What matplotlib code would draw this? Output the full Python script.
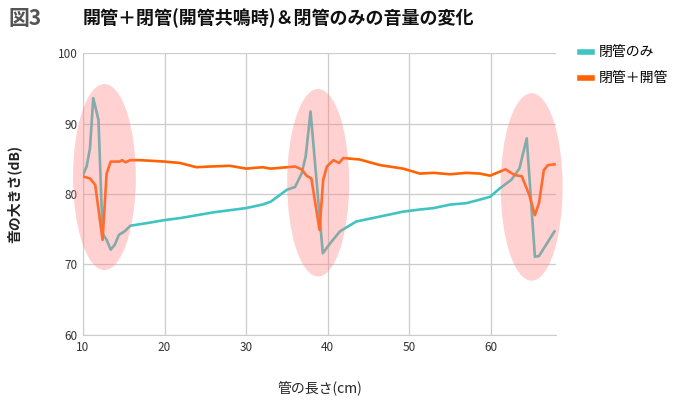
import matplotlib
matplotlib.use("Agg")
from matplotlib import pyplot as plt
from matplotlib.patches import Ellipse

plt.rcParams['font.family'] = ['Noto Sans CJK JP', 'DejaVu Sans']

# 閉管のみ
x_closed = [10, 10.45, 10.86, 11.26, 11.9, 12.4, 12.9, 13.4, 13.9, 14.4, 15.1, 15.8,
            18, 20, 22, 24, 26, 28, 30, 32, 33, 35, 36, 36.8, 37.3, 37.9,
            39.4, 40.3, 41.5, 43.5, 46.4, 49.25, 51.3, 53, 55, 57,
            58.65, 59.9, 61.1, 62.5, 63.5, 64.4, 65.4, 65.9, 67.8]
y_closed = [82.7, 83.9, 86.5, 93.6, 90.5, 74.4, 73.5, 72.1, 72.8, 74.2, 74.7, 75.5,
            75.9, 76.3, 76.6, 77.0, 77.4, 77.7, 78.0, 78.5, 78.9, 80.6, 81.0, 82.9, 85.3, 91.7,
            71.6, 73.0, 74.7, 76.1, 76.8, 77.5, 77.8, 78.0, 78.5, 78.7,
            79.2, 79.6, 80.8, 82.0, 83.6, 87.9, 71.1, 71.2, 74.7]

# 閉管＋開管
x_both = [10, 10.86, 11.5, 12.4, 12.9, 13.4, 14.5, 14.8, 15.2, 15.8, 17, 20, 21.9, 23.9,
          25.6, 28, 30, 32, 33, 36.0, 36.8, 37.4, 38.0, 39.0, 39.45, 39.9, 40.7, 41.4,
          41.9, 43.9, 46.4, 49.25, 51.3, 53, 55, 57, 58.65, 59.9, 61.8, 62.9, 63.8,
          64.7, 65.4, 65.9, 66.5, 67.0, 67.8]
y_both = [82.5, 82.2, 81.3, 73.5, 82.9, 84.6, 84.6, 84.8, 84.5, 84.8, 84.8, 84.6, 84.4, 83.8,
          83.9, 84.0, 83.6, 83.8, 83.6, 83.9, 83.5, 82.6, 82.2, 74.9, 82.0, 83.9, 84.8, 84.4,
          85.1, 84.9, 84.1, 83.6, 82.9, 83.0, 82.8, 83.0, 82.9, 82.6, 83.5, 82.7, 82.5,
          79.9, 77.0, 78.7, 83.4, 84.1, 84.2]

# 共鳴部分の楕円 (中心x, 中心y, 幅, 高さ)
rings = [(12.63, 82.4, 7.7, 26.4), (38.83, 81.6, 7.6, 26.6), (65.0, 81.0, 7.6, 26.6)]

fig = plt.figure(figsize=(6.79, 4.01), dpi=100)
ax = fig.add_axes([0.1222, 0.1646, 0.6968, 0.7032])

ax.plot(x_closed, y_closed, color='#3fc3c3', lw=1.9, label='閉管のみ', zorder=3)
ax.plot(x_both, y_both, color='#ff6200', lw=1.9, label='閉管＋開管', zorder=3)

for cx, cy, w, h in rings:
    ax.add_patch(Ellipse((cx, cy), w, h, facecolor=(1, 0.5, 0.5, 0.36),
                         edgecolor='none', zorder=4, clip_on=False))

ax.set_xlim(10, 68)
ax.set_ylim(60, 100)
ax.set_xticks([10, 20, 30, 40, 50, 60])
ax.set_yticks([60, 70, 80, 90, 100])
ax.grid(True, color='#cccccc', lw=0.9)
ax.set_axisbelow(True)
for s in ['top', 'right']:
    ax.spines[s].set_visible(False)
for s in ['left', 'bottom']:
    ax.spines[s].set_color('#cccccc')
ax.tick_params(length=0, labelsize=8.5, colors='#333333', pad=4)

ax.set_xlabel('管の長さ(cm)', fontsize=10, labelpad=20, color='#222222')
ax.set_ylabel('音の大きさ(dB)', fontsize=10, labelpad=26, color='#222222', fontweight='bold')

leg = ax.legend(loc='upper left', bbox_to_anchor=(1.025, 1.07), frameon=False,
                fontsize=10, handlelength=0.8, handletextpad=0.5, labelspacing=0.9)
for line in leg.get_lines():
    line.set_linewidth(4)

fig.text(0.012, 0.955, '図3', fontsize=15, fontweight='bold', color='#555555', va='center')
fig.text(0.121, 0.955, '開管＋閉管(開管共鳴時)＆閉管のみの音量の変化', fontsize=13,
         fontweight='bold', color='#111111', va='center')

fig.savefig('out.png', dpi=100)
